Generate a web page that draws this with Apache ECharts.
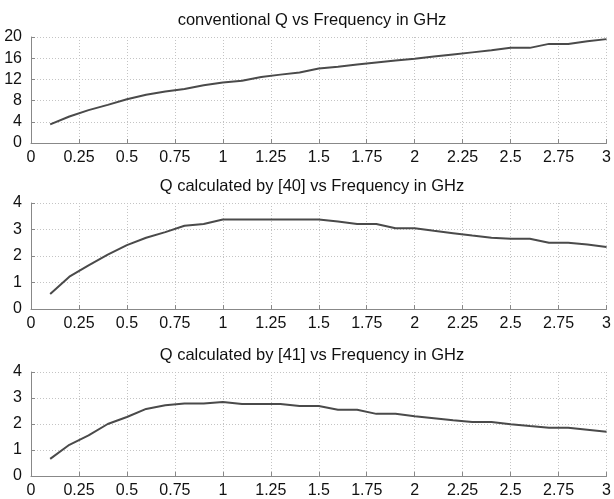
<!DOCTYPE html>
<html>
<head>
<meta charset="utf-8">
<script src="https://cdn.jsdelivr.net/npm/echarts@6/dist/echarts.min.js"></script>
<style>
  html, body { margin: 0; padding: 0; background: #fff; }
  #main { width: 614px; height: 499px; }
</style>
</head>
<body>
<div id="main"></div>
<script>
// frequency points (GHz)
var freq = [0.1, 0.2, 0.3, 0.4, 0.5, 0.6, 0.7, 0.8, 0.9, 1.0,
            1.1, 1.2, 1.3, 1.4, 1.5, 1.6, 1.7, 1.8, 1.9, 2.0,
            2.1, 2.2, 2.3, 2.4, 2.5, 2.6, 2.7, 2.8, 2.9, 3.0];

// conventional Q
var qConventional = [3.5, 5.0, 6.2, 7.2, 8.25, 9.1, 9.7, 10.2, 10.9, 11.4,
                     11.75, 12.45, 12.9, 13.3, 14.05, 14.4, 14.8, 15.2, 15.55, 15.9,
                     16.3, 16.7, 17.1, 17.5, 17.95, 17.95, 18.7, 18.7, 19.2, 19.6];

// Q calculated by [40]
var q40 = [0.57, 1.22, 1.65, 2.05, 2.41, 2.69, 2.9, 3.14, 3.21, 3.38,
           3.38, 3.38, 3.38, 3.38, 3.38, 3.3, 3.21, 3.21, 3.05, 3.05,
           2.95, 2.86, 2.77, 2.69, 2.65, 2.65, 2.5, 2.5, 2.43, 2.34];

// Q calculated by [41]
var q41 = [0.66, 1.2, 1.56, 2.0, 2.27, 2.58, 2.72, 2.79, 2.79, 2.85,
           2.77, 2.77, 2.77, 2.69, 2.69, 2.55, 2.55, 2.39, 2.39, 2.3,
           2.22, 2.14, 2.08, 2.08, 1.99, 1.92, 1.86, 1.86, 1.78, 1.7];

var titles = ['conventional Q vs Frequency in GHz',
              'Q calculated by [40] vs Frequency in GHz',
              'Q calculated by [41] vs Frequency in GHz'];
var yMax = [20, 4, 4];
var yStep = [4, 1, 1];
var allSeries = [qConventional, q40, q41];

var chart = echarts.init(document.getElementById('main'));
var font = "'Liberation Sans', Arial, sans-serif";
var gridTops = [37, 203, 372];
var gridH = 106;

var option = {
  backgroundColor: '#fff',
  animation: false,
  title: [],
  grid: [],
  xAxis: [],
  yAxis: [],
  series: []
};

for (var i = 0; i < 3; i++) {
  option.title.push({
    text: titles[i],
    left: 307,
    textAlign: 'center',
    top: gridTops[i] - 30,
    textStyle: { fontFamily: font, fontSize: 16.5, fontWeight: 'normal', color: '#111' }
  });
  option.grid.push({ left: 31, right: 7, top: gridTops[i], height: gridH });
  option.xAxis.push({
    type: 'value',
    gridIndex: i,
    min: 0,
    max: 3,
    interval: 0.25,
    axisLine: { lineStyle: { color: '#888', width: 1 } },
    axisTick: { show: true, inside: true, length: 4, lineStyle: { color: '#888' } },
    axisLabel: { margin: 7, color: '#111', fontFamily: font, fontSize: 16, showMaxLabel: true },
    splitLine: { show: true, lineStyle: { color: '#c4c4c4', type: [1, 2], width: 1 } }
  });
  option.yAxis.push({
    type: 'value',
    gridIndex: i,
    min: 0,
    max: yMax[i],
    interval: yStep[i],
    axisLine: { show: true, lineStyle: { color: '#888', width: 1 } },
    axisTick: { show: true, inside: true, length: 4, lineStyle: { color: '#888' } },
    axisLabel: { margin: 9, color: '#111', fontFamily: font, fontSize: 16 },
    splitLine: { show: true, lineStyle: { color: '#c4c4c4', type: [1, 2], width: 1 } }
  });
  option.series.push({
    type: 'line',
    xAxisIndex: i,
    yAxisIndex: i,
    data: freq.map(function (f, k) { return [f, allSeries[i][k]]; }),
    showSymbol: false,
    lineStyle: { color: '#4a4a4a', width: 2 }
  });
}

chart.setOption(option);
</script>
</body>
</html>
